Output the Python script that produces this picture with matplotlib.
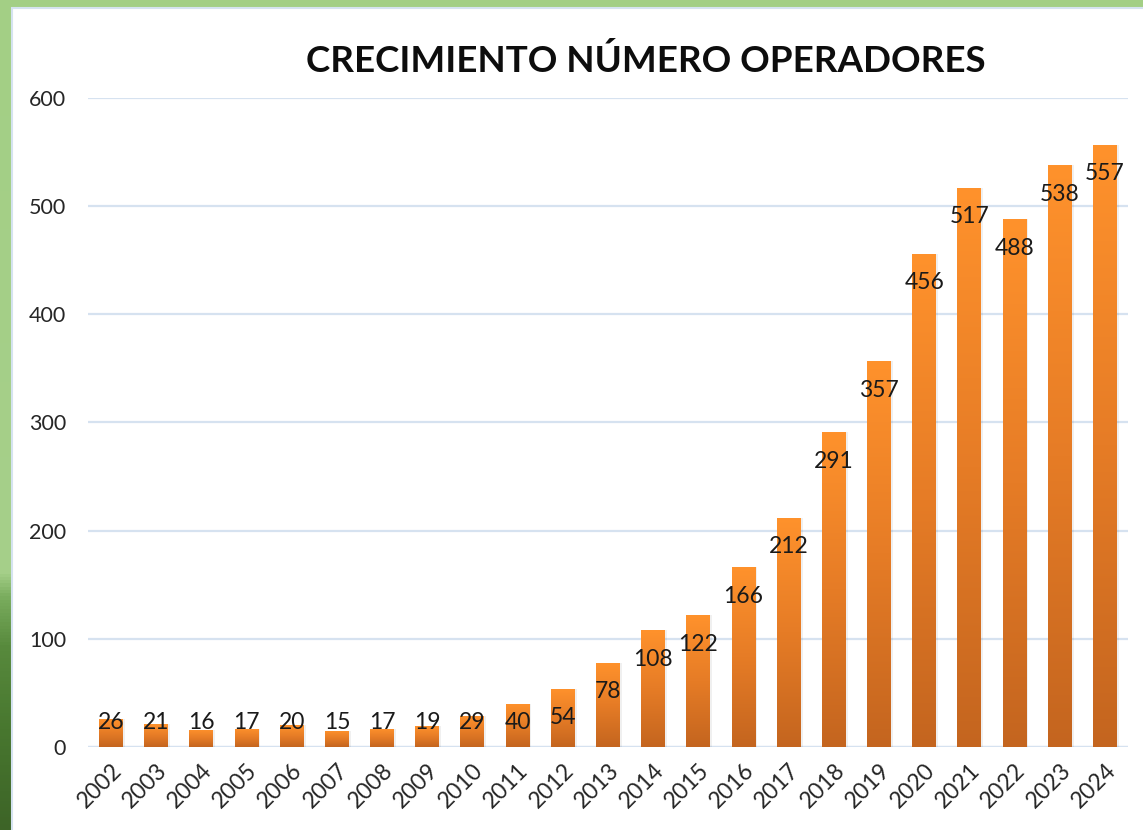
import matplotlib
matplotlib.use("Agg")
import matplotlib.pyplot as plt
import numpy as np
from matplotlib.patches import Rectangle
from matplotlib.colors import LinearSegmentedColormap

years = [str(y) for y in range(2002, 2025)]
values = [26, 21, 16, 17, 20, 15, 17, 19, 29, 40, 54, 78, 108, 122, 166, 212, 291, 357, 456, 517, 488, 538, 557]
title = "CRECIMIENTO NÚMERO OPERADORES"
yticks = [0, 100, 200, 300, 400, 500, 600]

plt.rcParams['font.family'] = ['Lato', 'DejaVu Sans']

W, H = 1143, 830
fig = plt.figure(figsize=(W / 100, H / 100), dpi=100)
fig.patch.set_facecolor('white')

# green frame: top band and left band with gradient
top_ax = fig.add_axes([0, 1 - 8 / H, 1, 8 / H])
top_ax.set_axis_off()
top_ax.add_patch(Rectangle((0, 0), 1, 1, color='#a3cf85', transform=top_ax.transAxes))

left_ax = fig.add_axes([0, 0, 12 / W, 1])
left_ax.set_axis_off()
green_cmap = LinearSegmentedColormap.from_list(
    'g', [(0.0, '#3d6427'), (0.12, '#48772f'), (0.22, '#588a3d'), (0.28, '#7aad5e'), (0.31, '#a6d08a'), (1.0, '#a3cf85')])
grad = np.linspace(0, 1, 256).reshape(-1, 1)
left_ax.imshow(grad, aspect='auto', cmap=green_cmap, origin='lower', extent=[0, 1, 0, 1])
left_ax.set_xlim(0, 1)
left_ax.set_ylim(0, 1)

# thin light-blue border of the chart area
fig.add_artist(Rectangle((12 / W, -0.01), 1.1, 1 - 8 / H + 0.01, transform=fig.transFigure,
                         fill=False, edgecolor='#d5e3f0', linewidth=1.5))

ax = fig.add_axes([88.4 / W, (H - 747) / H, (1127.6 - 88.4) / W, (747 - 98) / H])
ax.set_facecolor('none')
x = np.arange(len(values))
bars = ax.bar(x, values, width=0.53, color='none', zorder=3)

bar_cmap = LinearSegmentedColormap.from_list('o', ['#c4651f', '#e67c26', '#ff922c'])
for b in bars:
    bx, by = b.get_x(), b.get_y()
    bw, bh = b.get_width(), b.get_height()
    im = ax.imshow(grad, aspect='auto', cmap=bar_cmap, origin='lower',
                   extent=[bx, bx + bw, by, by + bh], zorder=3)
    im.set_clip_path(b)
    # subtle shadow
    ax.add_patch(Rectangle((bx + 0.04, by), bw, bh, facecolor='#000000', alpha=0.06,
                           edgecolor='none', zorder=2))

for xi, v in zip(x, values):
    ly = max(v - 27, 23)
    ax.text(xi, ly, str(v), ha='center', va='center', fontsize=16.5, color='#1a1a1a', zorder=5)

ax.set_xlim(-0.5, len(values) - 0.5)
ax.set_ylim(0, 600)
ax.set_yticks(yticks)
ax.set_yticklabels([str(t) for t in yticks], fontsize=15.5, color='#262626')
ax.set_xticks(x)
ax.set_xticklabels(years, rotation=45, ha='right', rotation_mode='anchor', fontsize=16.5, color='#262626')
ax.tick_params(axis='both', length=0)
ax.tick_params(axis='y', pad=16)
ax.tick_params(axis='x', pad=9)
for s in ax.spines.values():
    s.set_visible(False)
ax.grid(axis='y', color='#d6e2f0', linewidth=1.6, zorder=0)
ax.set_axisbelow(True)
ax.axhline(0, color='#d6e2f0', linewidth=1.6, zorder=1)

fig.text(646 / W, 1 - 61 / H, title, ha='center', va='center', fontsize=26.5, fontweight='bold', color='#0d0d0d')

fig.savefig('out.png', dpi=100, facecolor='white')
